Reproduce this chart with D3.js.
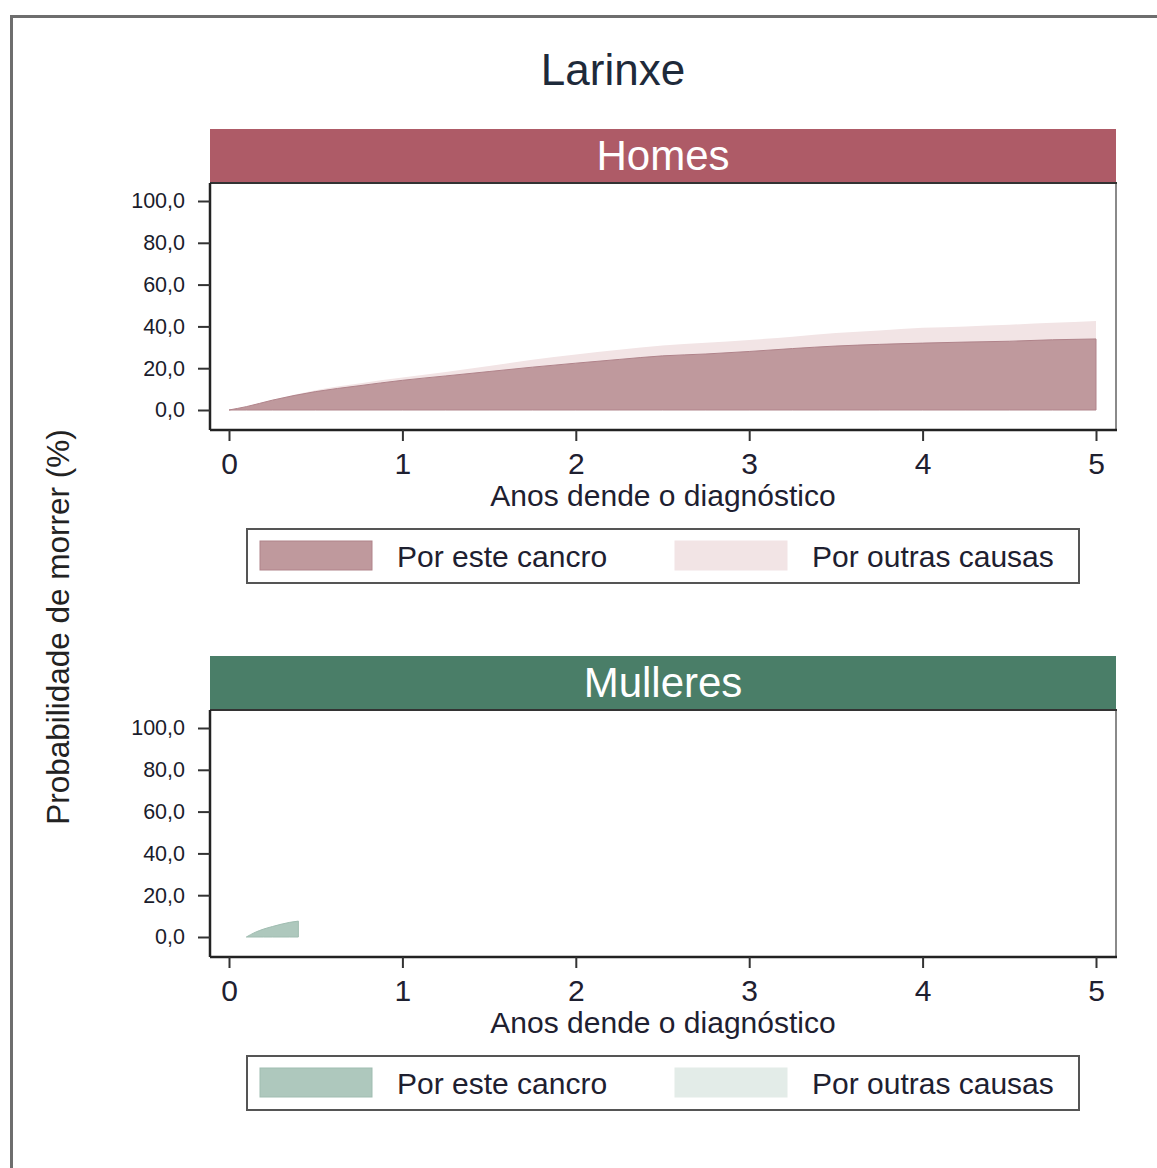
<!DOCTYPE html>
<html><head><meta charset="utf-8">
<script src="https://cdn.jsdelivr.net/npm/d3@7"></script>
<style>
html,body{margin:0;padding:0;background:#fff;}
svg{display:block;font-family:"Liberation Sans",Arial,sans-serif;}
</style></head>
<body>
<svg id="chart" width="1157" height="1168"></svg>
<script>
// ---- data ----
const chartTitle = "Larinxe";
const panelNames = ["Homes", "Mulleres"];
const legendLabels = ["Por este cancro", "Por outras causas"];
const xTicks = [0, 1, 2, 3, 4, 5];
const yTicks = [0, 20, 40, 60, 80, 100];
const xTitle = "Anos dende o diagnóstico";
const yTitle = "Probabilidade de morrer (%)";

const homesYears  = [0, 0.1, 0.25, 0.5, 0.75, 1, 1.25, 1.5, 1.75, 2, 2.25, 2.5, 2.75, 3, 3.25, 3.5, 3.75, 4, 4.25, 4.5, 4.75, 5];
const homesCancro = [0, 1.6, 4.7, 8.8, 11.6, 14.2, 16.3, 18.4, 20.5, 22.4, 24.2, 25.9, 26.8, 28.0, 29.4, 30.6, 31.4, 32.0, 32.5, 32.9, 33.6, 34.0];
const homesOutras = [0, 0.1, 0.2, 0.7, 1.1, 1.3, 1.9, 2.6, 3.6, 4.1, 4.6, 5.0, 5.4, 5.5, 5.7, 6.2, 6.6, 7.3, 7.5, 7.9, 8.1, 8.6];

const mulleresYears  = [0.1, 0.15, 0.2, 0.25, 0.3, 0.35, 0.4];
const mulleresCancro = [0, 2.2, 3.8, 5.0, 6.1, 7.0, 7.6];
const mulleresOutras = [0, 0, 0, 0, 0, 0, 0];

// ---- styles ----
const panelStyles = [
  {header: "#ae5b67", cancro: "#bf999d", cancroStroke: "#b0838a", outras: "#f2e4e5"},
  {header: "#4a7e68", cancro: "#aec8bd", cancroStroke: "#a0bdb1", outras: "#e3ece8"}
];

const svg = d3.select("#chart");

// outer frame
svg.append("rect").attr("x", 11.5).attr("y", 16.5).attr("width", 1200).attr("height", 1200)
  .attr("fill", "none").attr("stroke", "#6e6e6e").attr("stroke-width", 3);

svg.append("text").attr("x", 613).attr("y", 85).attr("text-anchor", "middle")
  .attr("font-size", 44).attr("fill", "#1e2a3a").text(chartTitle);

svg.append("text").attr("transform", "translate(69,627) rotate(-90)")
  .attr("text-anchor", "middle").attr("font-size", 31.5).attr("fill", "#222").text(yTitle);

const panels = [
  {years: homesYears, cancro: homesCancro, outras: homesOutras},
  {years: mulleresYears, cancro: mulleresCancro, outras: mulleresOutras}
];

const left = 210, right = 1116;
const x = d3.scaleLinear().domain([0, 5]).range([229, 1096]);

panels.forEach((p, i) => {
  const off = i * 527;
  const st = panelStyles[i];
  const top = 183 + off, bottom = 430 + off;
  const y = d3.scaleLinear().domain([0, 100]).range([410 + off, 201 + off]);
  const g = svg.append("g");

  // header
  g.append("rect").attr("x", left).attr("y", 129 + off).attr("width", right - left).attr("height", top - 129 - off)
    .attr("fill", st.header);
  g.append("text").attr("x", (left + right) / 2 + 0).attr("y", 170 + off).attr("text-anchor", "middle")
    .attr("font-size", 42).attr("fill", "#fff").text(panelNames[i]);

  // plot background
  g.append("rect").attr("x", left).attr("y", top).attr("width", right - left).attr("height", bottom - top)
    .attr("fill", "#fff");

  // stacked areas
  const rows = p.years.map((t, k) => ({t, cancro: p.cancro[k], outras: p.outras[k]}));
  const stack = d3.stack().keys(["cancro", "outras"])(rows);
  const area = d3.area().curve(d3.curveMonotoneX).x(d => x(d.data.t)).y0(d => y(d[0])).y1(d => y(d[1]));
  g.append("path").datum(stack[1]).attr("d", area).attr("fill", st.outras);
  g.append("path").datum(stack[0]).attr("d", area).attr("fill", st.cancro)
    .attr("stroke", st.cancroStroke).attr("stroke-width", 1);

  // frame: right/top lighter, left/bottom axis
  g.append("line").attr("x1", right).attr("x2", right).attr("y1", top).attr("y2", bottom)
    .attr("stroke", "#8a8a8a").attr("stroke-width", 2);
  g.append("line").attr("x1", left).attr("x2", right + 1).attr("y1", top).attr("y2", top)
    .attr("stroke", "#333").attr("stroke-width", 2);

  // y axis
  const yAxis = d3.axisLeft(y).tickValues(yTicks).tickSize(12).tickPadding(13)
    .tickFormat(d => d3.format(".1f")(d).replace(".", ","));
  const ya = g.append("g").attr("transform", `translate(${left},0)`).call(yAxis);
  ya.select(".domain").attr("d", `M0,${top}V${bottom}`).attr("stroke", "#222").attr("stroke-width", 2.5);
  ya.selectAll(".tick line").attr("stroke", "#333").attr("stroke-width", 2);
  ya.selectAll(".tick text").attr("font-size", 21.5).attr("fill", "#1a1c2c")
    .attr("font-family", "Liberation Sans, Arial, sans-serif");

  // x axis
  const xAxis = d3.axisBottom(x).tickValues(xTicks).tickSize(11).tickPadding(12).tickFormat(d3.format("d"));
  const xa = g.append("g").attr("transform", `translate(0,${bottom})`).call(xAxis);
  xa.select(".domain").attr("d", `M${left},0H${right + 1}`).attr("stroke", "#222").attr("stroke-width", 2.5);
  xa.selectAll(".tick line").attr("stroke", "#333").attr("stroke-width", 2);
  xa.selectAll(".tick text").attr("font-size", 30).attr("fill", "#1e2030")
    .attr("font-family", "Liberation Sans, Arial, sans-serif");

  g.append("text").attr("x", 663).attr("y", 506 + off).attr("text-anchor", "middle")
    .attr("font-size", 30).attr("fill", "#1e2030").text(xTitle);

  // legend
  const lg = g.append("g");
  lg.append("rect").attr("x", 247).attr("y", 529 + off).attr("width", 832).attr("height", 54)
    .attr("fill", "#fff").attr("stroke", "#555").attr("stroke-width", 2);
  const sw = [{x: 260, fill: st.cancro, stroke: st.cancroStroke, tx: 397},
              {x: 675, fill: st.outras, stroke: st.outras, tx: 812}];
  sw.forEach((s, k) => {
    lg.append("rect").attr("x", s.x).attr("y", 541 + off).attr("width", 112).attr("height", 29)
      .attr("fill", s.fill).attr("stroke", s.stroke).attr("stroke-width", 1);
    lg.append("text").attr("x", s.tx).attr("y", 567 + off).attr("font-size", 30).attr("fill", "#1e2030")
      .text(legendLabels[k]);
  });
});
</script>
</body></html>
